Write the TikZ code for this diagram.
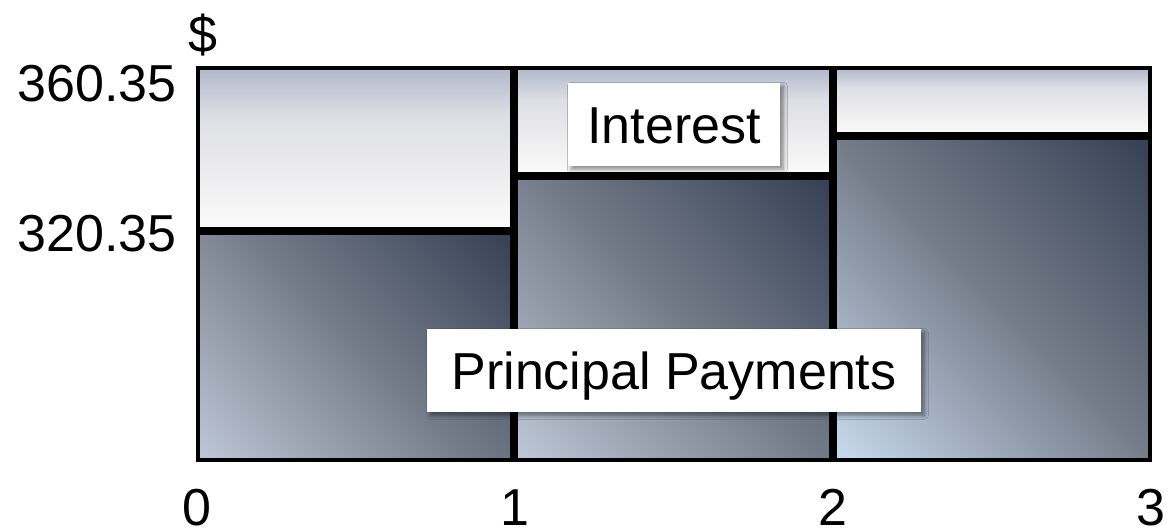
\documentclass[tikz,border=0pt]{standalone}
\usepackage{fontspec}
\setmainfont{Liberation Sans}
\usetikzlibrary{shadows.blur}
\definecolor{IntTop}{HTML}{B0B8CA}
\definecolor{IntUp}{HTML}{DEDFE5}
\definecolor{IntMid}{HTML}{EAEAEC}
\definecolor{IntBot}{HTML}{FBFBFB}
\definecolor{PrLight}{HTML}{BEC7D6}
\definecolor{PrLightB}{HTML}{C8DAEE}
\definecolor{PrMid}{HTML}{767D8A}
\definecolor{PrDark}{HTML}{364155}
\pgfdeclareverticalshading{intshade}{100bp}{color(0bp)=(IntBot); color(25bp)=(IntBot); color(45bp)=(IntMid); color(60bp)=(IntUp); color(75bp)=(IntTop); color(100bp)=(IntTop)}
\pgfdeclareverticalshading{prshadeA}{100bp}{color(0bp)=(PrLight); color(15bp)=(PrLight); color(50bp)=(PrMid); color(85bp)=(PrDark); color(100bp)=(PrDark)}
\pgfdeclareverticalshading{prshadeB}{100bp}{color(0bp)=(PrLightB); color(15bp)=(PrLightB); color(50bp)=(PrMid); color(85bp)=(PrDark); color(100bp)=(PrDark)}
\tikzset{
  cell/.style={draw=black, line width=3pt},
  interestcell/.style={cell, shading=intshade},
  principalcell/.style={cell, shading=#1, shading angle=-45},
  principalcell/.default=prshadeA,
  labelbox/.style={fill=white, draw=none, inner sep=0pt, text height=28pt, text depth=0pt,
    font=\fontsize{39}{47}\selectfont,
    blur shadow={shadow xshift=2.5pt, shadow yshift=-2.5pt, shadow blur radius=3pt, shadow blur steps=6, shadow opacity=45}},
  axislabel/.style={inner sep=0pt, font=\fontsize{39}{47}\selectfont},
}
\begin{document}
\begin{tikzpicture}[x=0.75pt, y=-0.75pt]
\useasboundingbox (0,0) rectangle (1168,531);
% column 1
\path[interestcell] (198,68) rectangle (512,229);
\path[principalcell] (198,233) rectangle (512,460);
% column 2
\path[interestcell] (516,68) rectangle (831,174.5);
\path[principalcell] (516,178.5) rectangle (831,460);
% column 3
\path[interestcell] (835,68) rectangle (1150,134);
\path[principalcell=prshadeB] (835,138) rectangle (1150,460);
% label boxes
\node[labelbox, minimum width=212*0.75pt, minimum height=83*0.75pt] (interest) at (674,124.5) {Interest};
\node[labelbox, minimum width=494*0.75pt, minimum height=83*0.75pt] (principal) at (674,370.5) {Principal Payments};
% axis labels
\node[axislabel, anchor=base] (dollar) at (203,53) {\$};
\node[axislabel, anchor=base east] (y360) at (177,102) {360.35};
\node[axislabel, anchor=base east] (y320) at (177,252) {320.35};
\node[axislabel, anchor=base] (x0) at (197,525) {0};
\node[axislabel, anchor=base] (x1) at (515,525) {1};
\node[axislabel, anchor=base] (x2) at (833,525) {2};
\node[axislabel, anchor=base] (x3) at (1151,525) {3};
\end{tikzpicture}
\end{document}
